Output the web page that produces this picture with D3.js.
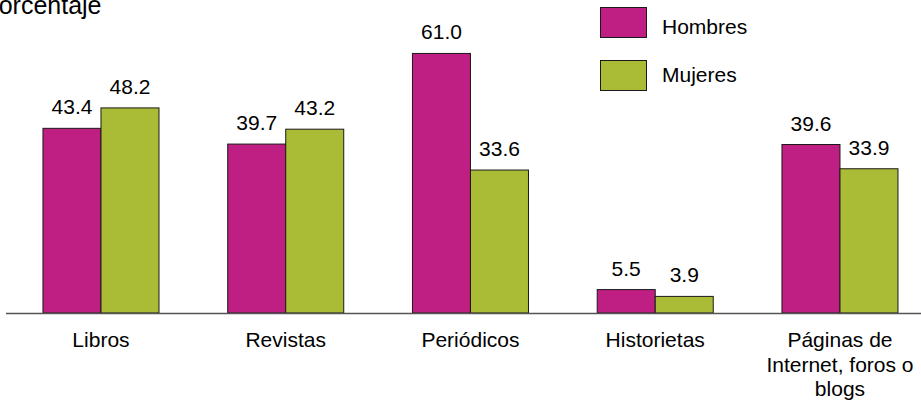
<!DOCTYPE html>
<html><head><meta charset="utf-8">
<script src="https://cdn.jsdelivr.net/npm/d3@7"></script>
<style>body{margin:0;background:#fff}svg{display:block;font-family:"Liberation Sans",Arial,sans-serif}</style>
</head><body><div id="chart"></div>
<script>
const categories = [["Libros"],["Revistas"],["Periódicos"],["Historietas"],["Páginas de","Internet, foros o","blogs"]];
const seriesNames = ["Hombres","Mujeres"];
const hombres = [43.4, 39.7, 61.0, 5.5, 39.6];
const mujeres = [48.2, 43.2, 33.6, 3.9, 33.9];
const colors = ["#BF1E83","#AABB36"];
const yTitle = "Porcentaje";

const W=921,H=400;
const svg=d3.select("#chart").append("svg").attr("width",W).attr("height",H);
const base=313;
const y=d3.scaleLinear().domain([0,70]).range([base,base-70*4.255]);
const x0=d3.scaleBand().domain(d3.range(categories.length)).range([8.6,8.6+5*184.75]).paddingInner(0.372).paddingOuter(0.186);
const x1=d3.scaleBand().domain([0,1]).range([0,x0.bandwidth()]);
const series=[hombres,mujeres];
const fs=21;

svg.append("text").attr("x",-18).attr("y",14).attr("font-size",25).attr("fill","#000").text(yTitle);

series.forEach((vals,si)=>{
  const g=svg.append("g");
  g.selectAll("rect").data(vals).join("rect")
    .attr("x",(d,i)=>x0(i)+x1(si)).attr("y",d=>y(d))
    .attr("width",x1.bandwidth()).attr("height",d=>base-y(d))
    .attr("fill",colors[si]).attr("stroke","#1a1a1a").attr("stroke-width",1);
  g.selectAll("text").data(vals).join("text")
    .attr("x",(d,i)=>x0(i)+x1(si)+x1.bandwidth()/2).attr("y",d=>y(d)-14)
    .attr("text-anchor","middle").attr("font-size",fs).attr("fill","#000")
    .text(d=>d.toFixed(1));
});

svg.append("line").attr("x1",6).attr("x2",W).attr("y1",base+0.5).attr("y2",base+0.5).attr("stroke","#555").attr("stroke-width",1.5);

const cg=svg.append("g");
categories.forEach((lines,i)=>{
  const t=cg.append("text").attr("text-anchor","middle").attr("font-size",fs).attr("fill","#000");
  lines.forEach((l,j)=>t.append("tspan").attr("x",x0(i)+x0.bandwidth()/2).attr("y",347+j*24.5).text(l));
});

const lg=svg.append("g");
const legY=[7.5,60.5], legT=[34,82];
seriesNames.forEach((n,i)=>{
  lg.append("rect").attr("x",600.5).attr("y",legY[i]).attr("width",46).attr("height",30).attr("fill",colors[i]).attr("stroke","#1a1a1a");
  lg.append("text").attr("x",662).attr("y",legT[i]).attr("font-size",fs).attr("fill","#000").text(n);
});
</script></body></html>
